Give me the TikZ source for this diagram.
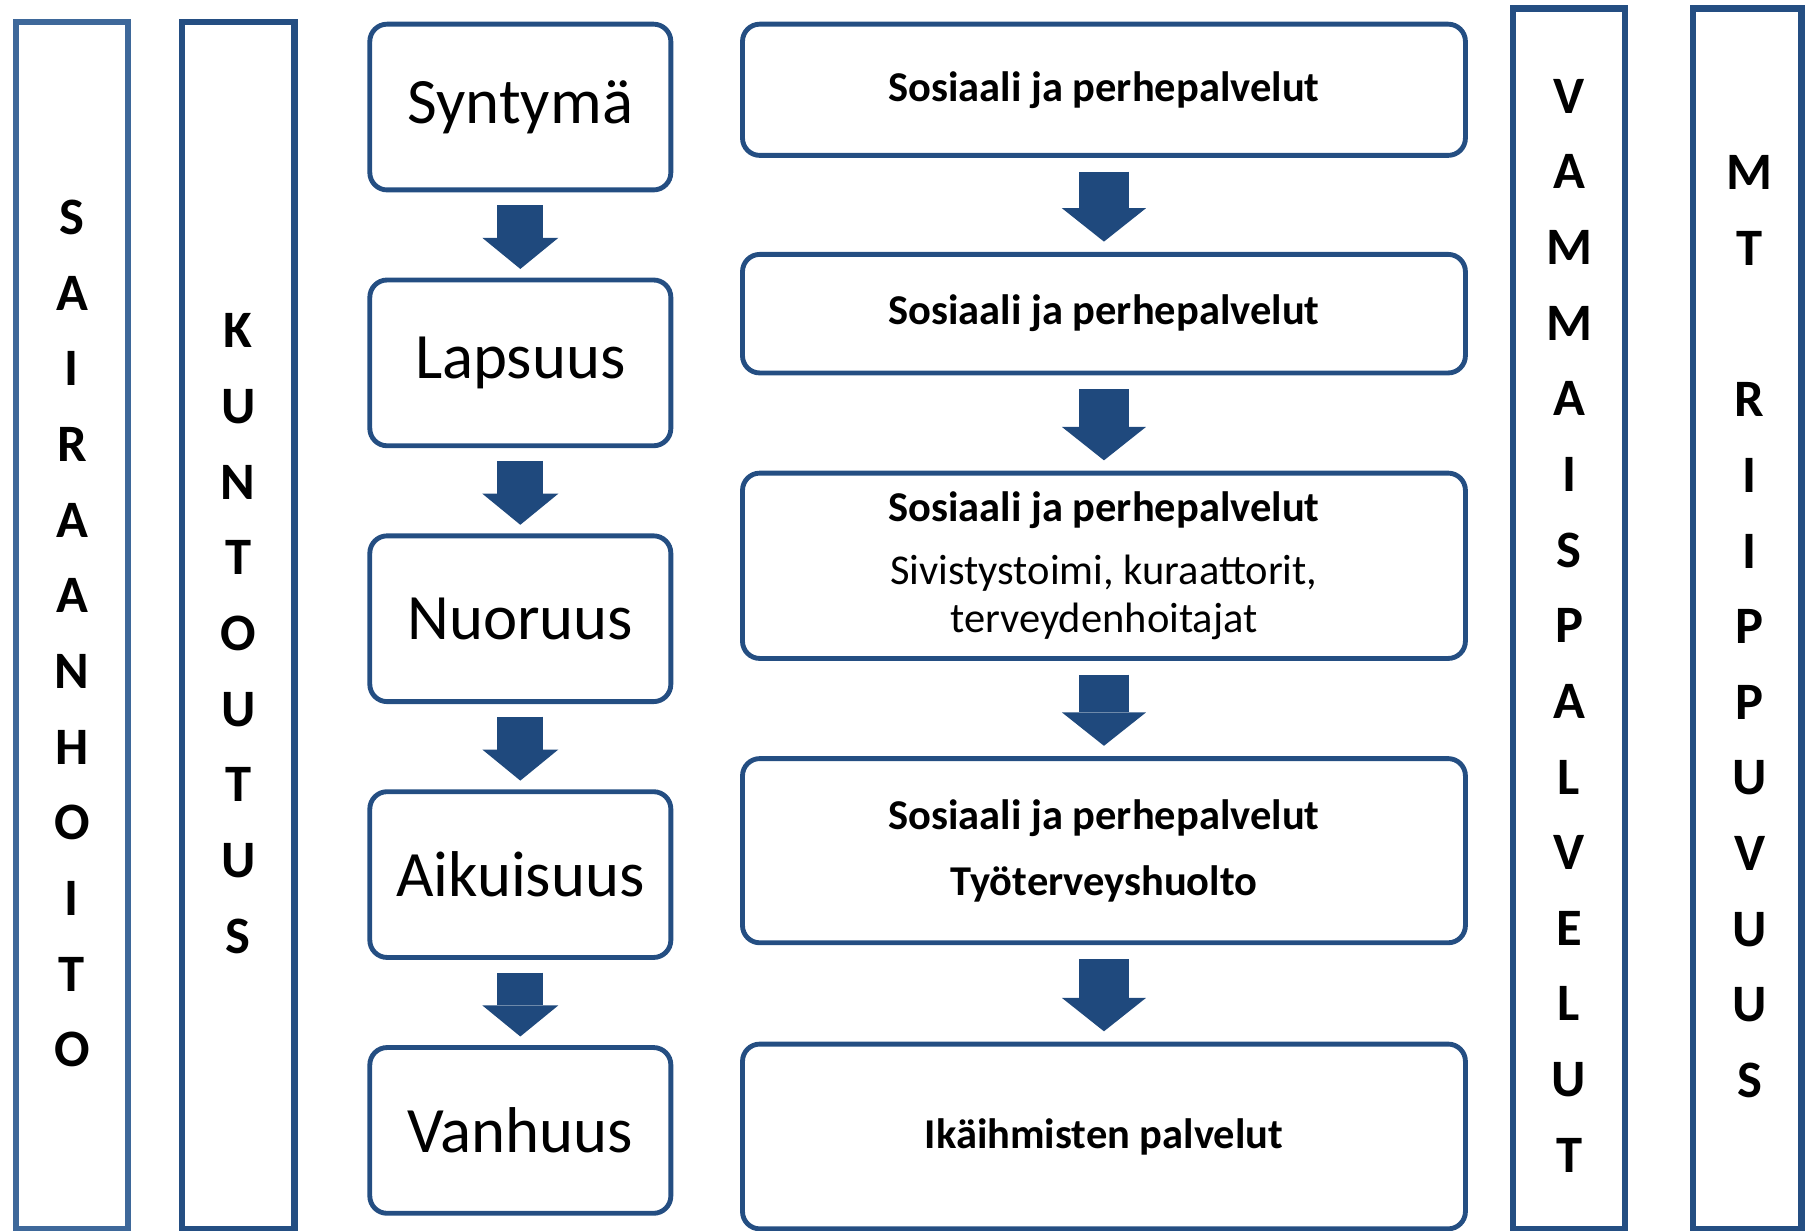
\documentclass[tikz,border=0pt]{standalone}
\usepackage{fontspec}
\setmainfont{Carlito}
\usepackage{tikz}
\usetikzlibrary{arrows.meta, shapes}
\definecolor{frameblue}{RGB}{36,78,130}
\definecolor{arrowblue}{RGB}{31,73,125}
\definecolor{sairblue}{RGB}{62,104,154}
\tikzstyle{lifebox} = [draw=frameblue, line width=1.2pt, rectangle, rounded corners=0.15cm, minimum width=2.615cm, minimum height=1.44cm, inner sep=0, font=\fontsize{16}{19}\selectfont]
\tikzstyle{servicebox} = [draw=frameblue, line width=1.2pt, rectangle, rounded corners=0.15cm, minimum width=6.28cm, inner sep=0, align=center, font=\fontsize{10.5}{12}\selectfont]
\tikzstyle{column} = [draw=frameblue, line width=1.6pt, rectangle, minimum width=0.975cm, inner sep=0]
\tikzstyle{letters} = [align=center, inner sep=0, font=\fontsize{13}{18.7}\selectfont\bfseries]
\tikzstyle{lifearrow} = [-{Triangle[width=0.66cm, length=0.27cm, line width=0pt]}, line width=0.40cm, arrowblue, shorten <=0.11cm, shorten >=0.075cm]
\tikzstyle{servicearrow} = [-{Triangle[width=0.73cm, length=0.29cm, line width=0pt]}, line width=0.44cm, arrowblue, shorten <=0.12cm, shorten >=0.09cm]

\begin{document}
\begin{tikzpicture}
        \useasboundingbox (0,0) rectangle (15.68,-10.69);
        % side columns
        \node [column, draw=sairblue, minimum height=10.4825cm] (sairFrame) at (0.625,-5.434) {};
        \node [letters] (sair) at (0.625,-5.505) {S\\A\\I\\R\\A\\A\\N\\H\\O\\I\\T\\O};
        \node [column, minimum height=10.4825cm] (kuntFrame) at (2.07,-5.434) {};
        \node [letters] (kunt) at (2.07,-5.505) {K\\U\\N\\T\\O\\U\\T\\U\\S};
        \node [column, minimum height=10.6025cm] (vammFrame) at (13.63,-5.374) {};
        \node [letters] (vamm) at (13.63,-5.435) {V\\A\\M\\M\\A\\I\\S\\P\\A\\L\\V\\E\\L\\U\\T};
        \node [column, minimum height=10.6025cm, minimum width=0.9425cm] (mtFrame) at (15.18,-5.374) {};
        \node [letters] (mt) at (15.20,-5.445) {M\\T\\\mbox{}\\R\\I\\I\\P\\P\\U\\V\\U\\U\\S};

        % life stages
        \node [lifebox] (syntyma) at (4.52,-0.93) {Syntymä};
        \node [lifebox, node distance=2.2225cm, below of=syntyma] (lapsuus) {Lapsuus};
        \node [lifebox, node distance=2.2225cm, below of=lapsuus] (nuoruus) {Nuoruus};
        \node [lifebox, node distance=2.2225cm, below of=nuoruus] (aikuisuus) {Aikuisuus};
        \node [lifebox, node distance=2.2225cm, below of=aikuisuus] (vanhuus) {Vanhuus};

        % services
        \node [servicebox, minimum height=1.14cm] (palvelu1) at (9.59,-0.78) {\textbf{Sosiaali ja perhepalvelut}};
        \node [servicebox, minimum height=1.03cm, node distance=1.945cm, below of=palvelu1] (palvelu2) {\textbf{Sosiaali ja perhepalvelut}};
        \node [servicebox, minimum height=1.61cm, node distance=2.19cm, below of=palvelu2] (palvelu3) {\textbf{Sosiaali ja perhepalvelut}\\[3.6pt]Sivistystoimi, kuraattorit,\\terveydenhoitajat};
        \node [servicebox, minimum height=1.60cm, node distance=2.475cm, below of=palvelu3] (palvelu4) {\textbf{Sosiaali ja perhepalvelut}\\[4.2pt]\textbf{Työterveyshuolto}};
        \node [servicebox, minimum height=1.605cm, node distance=2.4825cm, below of=palvelu4] (palvelu5) {\textbf{Ikäihmisten palvelut}};

        \draw [lifearrow] (syntyma) -- (lapsuus);
        \draw [lifearrow] (lapsuus) -- (nuoruus);
        \draw [lifearrow] (nuoruus) -- (aikuisuus);
        \draw [lifearrow] (aikuisuus) -- (vanhuus);
        \draw [servicearrow] (palvelu1) -- (palvelu2);
        \draw [servicearrow] (palvelu2) -- (palvelu3);
        \draw [servicearrow] (palvelu3) -- (palvelu4);
        \draw [servicearrow] (palvelu4) -- (palvelu5);
\end{tikzpicture}
\end{document}
